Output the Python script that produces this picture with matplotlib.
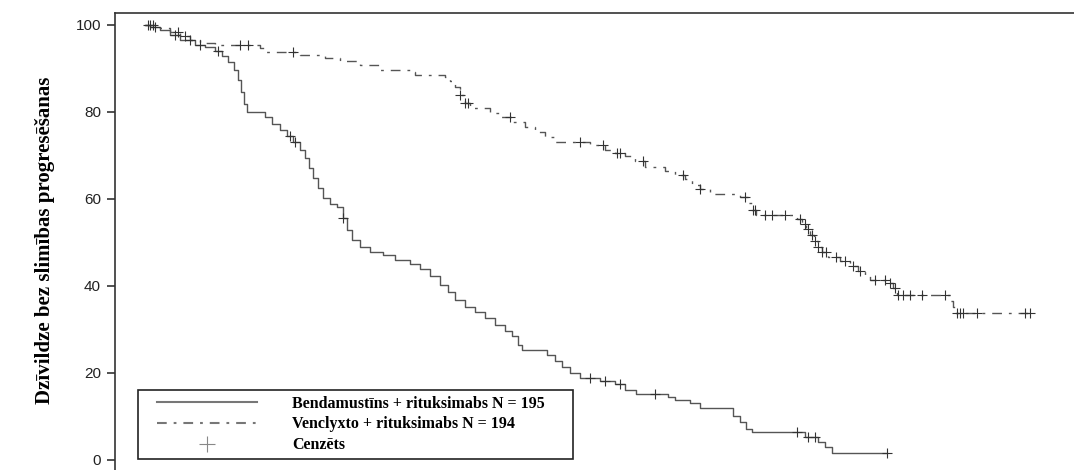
import numpy as np
import matplotlib
matplotlib.use('Agg')
import matplotlib.pyplot as plt
from matplotlib.lines import Line2D
from matplotlib.legend_handler import HandlerLine2D

# Kaplan-Meier step data (time in months, survival in %)
benda_t = [0, 0.25, 0.75, 1.25, 1.75, 2.5, 3.0, 3.5, 3.85, 4.15, 4.45, 4.65, 4.8, 4.95, 5.1,
           6.0, 6.35, 6.75, 7.1, 7.4, 7.75, 8.0, 8.2, 8.4, 8.65, 8.9, 9.25, 9.6, 9.9, 10.1,
           10.35, 10.75, 11.25, 11.9, 12.5, 13.25, 13.75, 14.25, 14.75, 15.15, 15.5, 16.0,
           16.5, 17.0, 17.5, 18.0, 18.35, 18.65, 18.85, 20.1, 20.5, 20.85, 21.25, 21.75,
           22.75, 23.5, 24.0, 24.55, 26.15, 26.5, 27.25, 27.75, 29.4, 29.75, 30.05, 30.35,
           33.0, 33.65, 34.0, 34.35, 37.1]
benda_s = [100, 99.5, 98.9, 97.7, 96.6, 95.4, 94.9, 94.0, 92.9, 91.5, 89.7, 87.4, 84.6, 81.8, 80.0,
           78.9, 77.2, 75.9, 74.5, 73.1, 71.3, 69.4, 67.1, 64.8, 62.5, 60.2, 58.9, 58.2, 55.6, 52.9,
           50.6, 49.0, 47.8, 47.1, 46.0, 45.1, 43.9, 42.3, 40.2, 38.6, 36.8, 35.2,
           34.0, 32.6, 31.0, 29.7, 28.5, 26.4, 25.3, 24.1, 22.8, 21.4, 20.0, 18.9,
           18.2, 17.5, 16.1, 15.2, 14.5, 13.8, 13.1, 12.0, 10.1, 8.7, 7.1, 6.4,
           5.3, 4.1, 3.0, 1.6, 1.6]
benda_cens = [0.15, 0.5, 1.5, 2.25, 2.75, 3.65, 7.25, 7.5, 9.9, 22.25, 23.0, 23.75, 25.5,
              32.6, 33.15, 33.5, 37.1]

venc_t = [0, 0.75, 1.25, 1.75, 2.25, 2.75, 3.5, 5.75, 6.0, 7.75, 9.0, 9.75, 10.75, 11.75,
          13.25, 13.5, 15.0, 15.25, 15.5, 15.75, 16.0, 16.25, 17.25, 17.75, 18.35, 19.0,
          19.5, 20.0, 20.5, 22.25, 23.0, 23.5, 24.0, 24.5, 25.0, 26.0, 26.5, 27.0, 27.35,
          27.75, 28.25, 29.75, 30.15, 30.35, 30.55, 32.6, 32.85, 33.05, 33.25, 33.45, 33.65,
          33.85, 34.15, 34.75, 35.25, 35.65, 36.0, 36.25, 37.15, 37.4, 37.6, 40.25, 40.4,
          40.5, 44.25]
venc_s = [100, 99.3, 98.4, 97.5, 96.6, 95.9, 95.4, 94.7, 93.8, 93.1, 92.4, 91.7, 90.8, 89.7,
          89.2, 88.5, 88.0, 87.1, 85.7, 83.9, 82.1, 80.9, 79.8, 78.9, 77.7, 76.6,
          75.4, 74.3, 73.1, 72.4, 71.3, 70.6, 69.9, 68.7, 67.4, 66.4, 65.5, 64.6, 63.2,
          62.3, 61.1, 60.5, 59.1, 57.5, 56.3, 55.4, 54.3, 53.1, 51.7, 50.3, 49.0,
          47.8, 46.7, 45.7, 44.6, 43.4, 42.3, 41.4, 40.7, 39.5, 37.9, 36.6, 35.2,
          33.8, 33.8]
venc_cens = [0.25, 0.4, 1.65, 2.0, 4.75, 5.15, 7.4, 15.75, 16.0, 16.15, 18.25, 21.75, 22.9,
             23.6, 23.75, 24.9, 26.9, 27.75, 30.0, 30.4, 30.5, 31.0, 31.35, 32.0, 32.75,
             33.0, 33.15, 33.35, 33.5, 33.65, 33.85, 34.05, 34.55, 35.0, 35.4, 35.75, 36.5,
             37.0, 37.25, 37.5, 37.65, 37.9, 38.25, 38.85, 40.0, 40.6, 40.75, 40.9, 41.6,
             44.0, 44.25]

labels = ['Bendamustīns + rituksimabs N = 195', 'Venclyxto + rituksimabs N = 194', 'Cenzēts']
y_ticks = [0, 20, 40, 60, 80, 100]


def step_value(times, surv, x):
    idx = np.searchsorted(times, x, side='right') - 1
    return np.asarray(surv)[idx]


plt.rcParams['lines.scale_dashes'] = False
W, H = 1074, 470
fig = plt.figure(figsize=(W / 100, H / 100), dpi=100)

# axes: left spine at px 115, top at px 13, y=0 at px 460, y=100 at px 25
ppu = (460 - 25) / 100
y_top = (460 - 13) / ppu
y_bot = -5
bot_px = 460 - y_bot * ppu
ax = fig.add_axes([115 / W, 1 - bot_px / H, (W - 115) / W, (bot_px - 13) / H])
ax.set_ylim(y_bot, y_top)
ax.set_xlim((115 - 145) / 20, (W - 145) / 20)

line_col = '#555555'
dashdot = (0, (7, 5, 2, 5))
ax.step(benda_t, benda_s, where='post', color=line_col, lw=1.0)
ax.step(venc_t, venc_s, where='post', color=line_col, lw=1.0, linestyle=dashdot)

ax.plot(benda_cens, step_value(benda_t, benda_s, benda_cens), '+', color='#333333',
        ms=7, mew=0.8)
ax.plot(venc_cens, step_value(venc_t, venc_s, venc_cens), '+', color='#333333',
        ms=7, mew=0.8)

for s in ['right', 'bottom']:
    ax.spines[s].set_visible(False)
for s in ['left', 'top']:
    ax.spines[s].set_color('#333333')
    ax.spines[s].set_linewidth(1.2)

ax.set_xticks([])
ax.set_yticks(y_ticks)
ax.set_yticklabels([str(v) for v in y_ticks], fontfamily='Liberation Sans', fontsize=11,
                   color='#222222')
ax.tick_params(axis='y', length=6, width=1.2, color='#333333', pad=4)

fig.text(45 / W, 1 - 240 / H, 'Dzīvildze bez slimības progresēšanas', rotation=90,
         ha='center', va='center', fontfamily='Liberation Serif', fontweight='bold',
         fontsize=15)

handles = [Line2D([], [], color='#777777', lw=1.5),
           Line2D([], [], color='#777777', lw=1.5, linestyle=dashdot),
           Line2D([], [], color='#888888', marker='+', ms=11, mew=0.8, linestyle='none')]
hmap = {h: HandlerLine2D(xpad=0.81) for h in handles}
leg = fig.legend(handles, labels, loc='upper left', handler_map=hmap,
                 bbox_to_anchor=(138 / W, 1 - 390 / H, (573 - 138) / W, 0),
                 bbox_transform=fig.transFigure, mode='expand', borderaxespad=0,
                 prop={'family': 'Liberation Serif', 'weight': 'bold', 'size': 11.5},
                 handlelength=7.1, handletextpad=2.2, labelspacing=0.3, borderpad=0.35,
                 fancybox=False, framealpha=1)
leg.get_frame().set_edgecolor('#222222')
leg.get_frame().set_linewidth(1.2)

fig.savefig('out.png', dpi=100)
